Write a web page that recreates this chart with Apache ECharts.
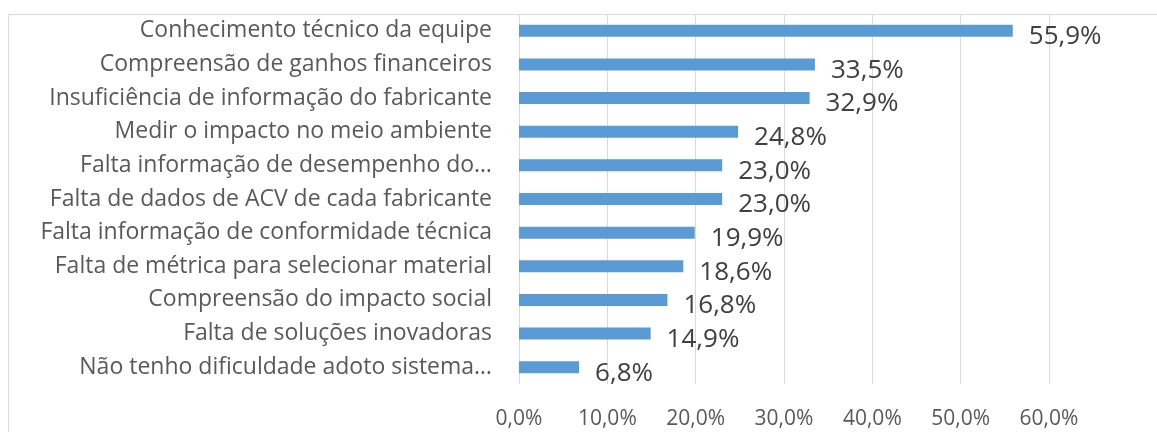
<!DOCTYPE html>
<html>
<head>
<meta charset="utf-8">
<script src="https://cdn.jsdelivr.net/npm/echarts@6/dist/echarts.min.js"></script>
<style>
  html, body { margin: 0; padding: 0; background: #fff; }
  #chart { width: 1157px; height: 432px; }
</style>
</head>
<body>
<div id="chart"></div>
<script>
// categorias (de cima para baixo)
const categories = [
  'Conhecimento técnico da equipe',
  'Compreensão de ganhos financeiros',
  'Insuficiência de informação do fabricante',
  'Medir o impacto no meio ambiente',
  'Falta informação de desempenho do…',
  'Falta de dados de ACV de cada fabricante',
  'Falta informação de conformidade técnica',
  'Falta de métrica para selecionar material',
  'Compreensão do impacto social',
  'Falta de soluções inovadoras',
  'Não tenho dificuldade adoto sistema…'
];
const values = [55.9, 33.5, 32.9, 24.8, 23.0, 23.0, 19.9, 18.6, 16.8, 14.9, 6.8];
const axisMin = 0;
const axisMax = 60;
const axisStep = 10;

const fmt = v => v.toFixed(1).replace('.', ',') + '%';

const chart = echarts.init(document.getElementById('chart'));
const option = {
  animation: false,
  textStyle: { fontFamily: 'Open Sans' },
  graphic: [{
    type: 'rect',
    silent: true,
    shape: { x: 8.5, y: 14.5, width: 1300, height: 600 },
    style: { fill: 'none', stroke: '#d9d9d9', lineWidth: 1 }
  }],
  grid: { left: 519, right: 108, top: 14, bottom: 48 },
  xAxis: {
    type: 'value',
    min: axisMin,
    max: axisMax,
    interval: axisStep,
    axisLine: { show: false },
    axisTick: { show: false },
    splitLine: { lineStyle: { color: '#d9d9d9', width: 1 } },
    axisLabel: {
      formatter: v => fmt(v),
      color: '#595959',
      fontSize: 21,
      margin: 25
    }
  },
  yAxis: {
    type: 'category',
    data: categories,
    inverse: true,
    axisLine: { show: false },
    axisTick: { show: false },
    axisLabel: { color: '#595959', fontSize: 23, margin: 27 }
  },
  series: [{
    type: 'bar',
    data: values,
    barWidth: 12,
    itemStyle: { color: '#5b9bd5' },
    label: {
      show: true,
      position: 'right',
      distance: 16,
      offset: [0, 6],
      color: '#404040',
      fontSize: 26,
      formatter: p => fmt(p.value)
    }
  }]
};
chart.setOption(option);
</script>
</body>
</html>
